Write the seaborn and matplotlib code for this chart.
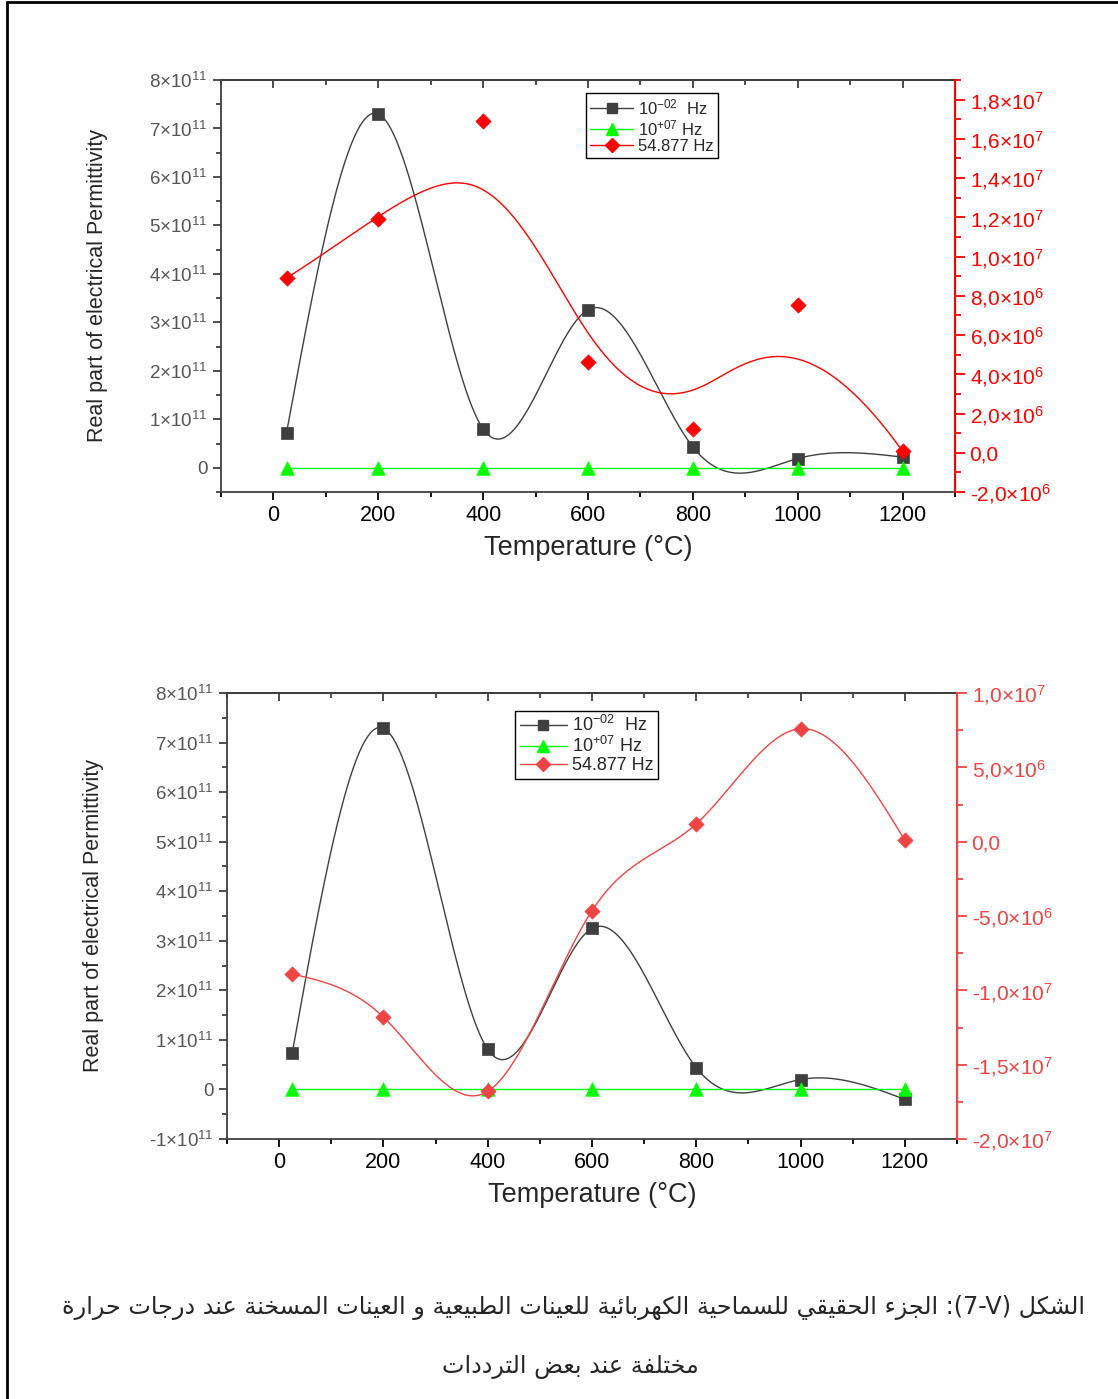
import numpy as np
import pandas as pd
import matplotlib
matplotlib.use("Agg")
import matplotlib.pyplot as plt
from matplotlib.lines import Line2D
from matplotlib.ticker import MultipleLocator, FixedLocator, FuncFormatter
import seaborn as sns

# ---------------------------------------------------------------- data
temperature = [25, 200, 400, 600, 800, 1000, 1200]

# natural samples
eps_low_a = [0.72e11, 7.30e11, 0.80e11, 3.26e11, 0.43e11, 0.19e11, 0.22e11]   # 10^-2 Hz
eps_high_a = [0, 0, 0, 0, 0, 0, 0]                                              # 10^+7 Hz
eps_mid_a = [8.9e6, 11.9e6, 16.9e6, 4.64e6, 1.22e6, 7.55e6, 0.08e6]           # 54.877 Hz

# heated samples
eps_low_b = [0.73e11, 7.29e11, 0.81e11, 3.25e11, 0.44e11, 0.20e11, -0.20e11]
eps_high_b = [0, 0, 0, 0, 0, 0, 0]
eps_mid_b = [-8.9e6, -11.8e6, -16.8e6, -4.64e6, 1.2e6, 7.6e6, 0.1e6]

legend_labels = ["10$^{-02}$  Hz", "10$^{+07}$ Hz", "54.877 Hz"]
x_label = "Temperature (°C)"
y_label = "Real part of electrical Permittivity"
caption_1 = "الشكل (7-V): الجزء الحقيقي للسماحية الكهربائية للعينات الطبيعية و العينات المسخنة عند درجات حرارة"
caption_2 = "مختلفة عند بعض الترددات"

# ---------------------------------------------------------------- style
sns.set_style("ticks")
plt.rcParams["font.family"] = ["Liberation Sans", "DejaVu Sans"]
plt.rcParams["mathtext.fontset"] = "custom"
plt.rcParams["mathtext.rm"] = "Liberation Sans"
plt.rcParams["mathtext.it"] = "Liberation Sans:italic"
plt.rcParams["mathtext.bf"] = "Liberation Sans:bold"
plt.rcParams["mathtext.default"] = "regular"

DARK = "#3f3f3f"
GREEN = "#00ff00"


# ---------------------------------------------------------------- curves
def natural_spline(x, y, xs):
    x = np.asarray(x, float)
    y = np.asarray(y, float)
    n = len(x)
    h = np.diff(x)
    A = np.zeros((n, n))
    r = np.zeros(n)
    A[0, 0] = A[-1, -1] = 1.0
    for i in range(1, n - 1):
        A[i, i - 1] = h[i - 1]
        A[i, i] = 2 * (h[i - 1] + h[i])
        A[i, i + 1] = h[i]
        r[i] = 6 * ((y[i + 1] - y[i]) / h[i] - (y[i] - y[i - 1]) / h[i - 1])
    M = np.linalg.solve(A, r)
    idx = np.clip(np.searchsorted(x, xs) - 1, 0, n - 2)
    x0, x1 = x[idx], x[idx + 1]
    hh = x1 - x0
    t0, t1 = x1 - xs, xs - x0
    return (M[idx] * t0 ** 3 / (6 * hh) + M[idx + 1] * t1 ** 3 / (6 * hh)
            + (y[idx] / hh - M[idx] * hh / 6) * t0
            + (y[idx + 1] / hh - M[idx + 1] * hh / 6) * t1)


def bspline(px, py, k=3, num=500):
    px = np.asarray(px, float)
    py = np.asarray(py, float)
    n = len(px)
    knots = np.concatenate([np.zeros(k), np.linspace(0, 1, n - k + 1), np.ones(k)])
    u = np.linspace(0, 1, num)
    u[-1] -= 1e-9
    N = np.zeros((num, len(knots) - 1))
    for j in range(len(knots) - 1):
        N[:, j] = (knots[j] <= u) & (u < knots[j + 1])
    for d in range(1, k + 1):
        Nn = np.zeros((num, len(knots) - 1 - d))
        for j in range(len(knots) - 1 - d):
            a = knots[j + d] - knots[j]
            b = knots[j + d + 1] - knots[j + 1]
            t1 = (u - knots[j]) / a * N[:, j] if a > 0 else 0
            t2 = (knots[j + d + 1] - u) / b * N[:, j + 1] if b > 0 else 0
            Nn[:, j] = t1 + t2
        N = Nn
    return N @ px, N @ py


# ---------------------------------------------------------------- arabic shaping
_DUAL = dict(zip("ئبتثجحخسشصضطظعغفقكلمنهي",
                 [0xFE89, 0xFE8F, 0xFE95, 0xFE99, 0xFE9D, 0xFEA1, 0xFEA5, 0xFEB1,
                  0xFEB5, 0xFEB9, 0xFEBD, 0xFEC1, 0xFEC5, 0xFEC9, 0xFECD, 0xFED1,
                  0xFED5, 0xFED9, 0xFEDD, 0xFEE1, 0xFEE5, 0xFEE9, 0xFEF1]))
_RIGHT = dict(zip("آأؤإاةدذرزوى",
                  [0xFE81, 0xFE83, 0xFE85, 0xFE87, 0xFE8D, 0xFE93, 0xFEA9, 0xFEAB,
                   0xFEAD, 0xFEAF, 0xFEED, 0xFEEF]))
_NONE = {"ء": 0xFE80}


def _is_arabic(ch):
    return ch in _DUAL or ch in _RIGHT or ch in _NONE


def _shape_word(word):
    out = []
    for i, ch in enumerate(word):
        if ch in _NONE:
            out.append(chr(_NONE[ch]))
            continue
        if not _is_arabic(ch):
            out.append(ch)
            continue
        prev = word[i - 1] if i > 0 else ""
        nxt = word[i + 1] if i + 1 < len(word) else ""
        jp = prev in _DUAL
        jn = ch in _DUAL and (nxt in _DUAL or nxt in _RIGHT)
        base = _DUAL.get(ch, _RIGHT.get(ch))
        if ch in _DUAL:
            off = 3 if (jp and jn) else 1 if jp else 2 if jn else 0
        else:
            off = 1 if jp else 0
        out.append(chr(base + off))
    return "".join(out)


def rtl_visual(text):
    tokens = text.split(" ")
    vis = []
    for tok in tokens:
        if any(_is_arabic(c) for c in tok):
            vis.append(_shape_word(tok)[::-1])
        else:
            # trailing neutral punctuation moves to the left in an RTL line
            stripped = tok.rstrip(":")
            vis.append(tok[len(stripped):] + stripped)
    return " ".join(vis[::-1])


# ---------------------------------------------------------------- axes helpers
def sci_int(v, _pos=None):
    if abs(v) < 1e-3:
        return "0"
    return f"{int(round(v / 1e11))}×10$^{{11}}$"


def sci_comma(v, _pos=None):
    if abs(v) < 1e-3:
        return "0,0"
    e = int(np.floor(np.log10(abs(v)) + 1e-9))
    m = v / 10 ** e
    return f"{m:.1f}".replace(".", ",") + f"×10$^{{{e}}}$"


def draw_panel(fig, rect, low, high, mid, ylim_l, ylim_r, r_major, r_minor,
               red, red_curve, legend_anchor, legend_fs, ylabel_x):
    ax = fig.add_axes(rect)
    ax.set_facecolor("none")
    xs = np.linspace(temperature[0], temperature[-1], 600)

    df = pd.DataFrame({"T": temperature, "low": low, "high": high, "mid": mid})

    # 10^-2 Hz : spline through points
    sns.lineplot(x=xs, y=natural_spline(temperature, low, xs), ax=ax,
                 color=DARK, lw=1.0, sort=False, estimator=None)
    # 10^+7 Hz : straight segments
    sns.lineplot(data=df, x="T", y="high", ax=ax, color=GREEN, lw=1.0,
                 sort=False, estimator=None)
    sns.scatterplot(data=df, x="T", y="low", ax=ax, marker="s", s=70,
                    color=DARK, edgecolor=DARK, linewidth=0.5, zorder=4)
    sns.scatterplot(data=df, x="T", y="high", ax=ax, marker="^", s=95,
                    color=GREEN, edgecolor=GREEN, linewidth=0.5, zorder=4)

    ax.set_xlim(-100, 1300)
    ax.set_ylim(*ylim_l)
    ax.xaxis.set_major_locator(FixedLocator([0, 200, 400, 600, 800, 1000, 1200]))
    ax.xaxis.set_minor_locator(MultipleLocator(100))
    ax.yaxis.set_major_locator(MultipleLocator(1e11))
    ax.yaxis.set_minor_locator(MultipleLocator(0.5e11))
    ax.yaxis.set_major_formatter(FuncFormatter(sci_int))
    ax.tick_params(axis="x", which="both", direction="out", top=False,
                   labelsize=15.5, colors="black", width=1.3)
    ax.tick_params(axis="x", which="major", length=6)
    ax.tick_params(axis="x", which="minor", length=3.5)
    ax.tick_params(axis="y", which="both", direction="out", right=False,
                   labelsize=13.5, labelcolor="#555555", color=DARK, width=1.3)
    ax.tick_params(axis="y", which="major", length=6)
    ax.tick_params(axis="y", which="minor", length=3.5)
    ax.set_xlabel(x_label, fontsize=19.5, labelpad=6)
    ax.set_ylabel(y_label, fontsize=15.5,
                  family=["Liberation Sans Narrow", "Liberation Sans"])
    ax.yaxis.set_label_coords(ylabel_x, 0.5)
    for side in ("left", "bottom", "top"):
        ax.spines[side].set_color(DARK)
        ax.spines[side].set_linewidth(1.3)

    # inward ticks on the top edge
    top = ax.secondary_xaxis("top")
    top.xaxis.set_major_locator(FixedLocator([0, 200, 400, 600, 800, 1000, 1200]))
    top.xaxis.set_minor_locator(MultipleLocator(100))
    top.tick_params(which="both", direction="in", labeltop=False, width=1.3,
                    color=DARK)
    top.tick_params(which="major", length=6)
    top.tick_params(which="minor", length=3.5)
    top.spines["top"].set_color(DARK)
    top.spines["top"].set_linewidth(1.3)

    # right axis : 54.877 Hz
    ax2 = ax.twinx()
    cx, cy = red_curve(temperature, mid)
    sns.lineplot(x=cx, y=cy, ax=ax2, color=red, lw=1.0, sort=False, estimator=None)
    sns.scatterplot(data=df, x="T", y="mid", ax=ax2, marker="D", s=60,
                    color=red, edgecolor=red, linewidth=0.5, zorder=4)
    ax2.set_ylim(*ylim_r)
    ax2.set_ylabel("")
    ax2.yaxis.set_major_locator(MultipleLocator(r_major))
    ax2.yaxis.set_minor_locator(MultipleLocator(r_minor))
    ax2.yaxis.set_major_formatter(FuncFormatter(sci_comma))
    ax2.tick_params(axis="y", which="both", direction="out", colors=red,
                    labelsize=15, width=1.3)
    ax2.tick_params(axis="y", which="major", length=7)
    ax2.tick_params(axis="y", which="minor", length=4)
    ax2.spines["right"].set_color(red)
    ax2.spines["right"].set_linewidth(1.5)
    for side in ("left", "bottom", "top"):
        ax2.spines[side].set_visible(False)

    handles = [
        Line2D([], [], color=DARK, lw=1.0, marker="s", markersize=7.5),
        Line2D([], [], color=GREEN, lw=1.0, marker="^", markersize=8.5),
        Line2D([], [], color=red, lw=1.0, marker="D", markersize=7),
    ]
    leg = ax2.legend(handles, legend_labels, loc="upper left",
                     bbox_to_anchor=legend_anchor, fontsize=legend_fs,
                     frameon=True, fancybox=False, edgecolor="black",
                     framealpha=1, handlelength=2.6, handletextpad=0.3,
                     labelspacing=0.05, borderpad=0.25, borderaxespad=0)
    leg.get_frame().set_linewidth(1.0)
    return ax, ax2


def bspline_curve(x, y):
    return bspline(x, y)


def spline_curve(x, y):
    xs = np.linspace(x[0], x[-1], 600)
    return xs, natural_spline(x, y, xs)


# ---------------------------------------------------------------- figure
W, H = 1118, 1399
fig = plt.figure(figsize=(W / 100, H / 100), dpi=100)


def rect(l, r, t, b):
    return [l / W, 1 - b / H, (r - l) / W, (b - t) / H]


draw_panel(fig, rect(221, 955, 80, 492), eps_low_a, eps_high_a, eps_mid_a,
           (-0.5e11, 8e11), (-2e6, 1.9e7), 2e6, 1e6, "#ff0000", bspline_curve,
           (0.497, 0.968), 12, (108 - 221) / 734)
draw_panel(fig, rect(227, 957, 693, 1139), eps_low_b, eps_high_b, eps_mid_b,
           (-1e11, 8e11), (-2e7, 1e7), 5e6, 2.5e6, "#ef4444", spline_curve,
           (0.395, 0.960), 13, (104 - 227) / 730)

# page frame
fig.add_artist(Line2D([7 / W, 7 / W], [0, 1 - 2 / H], color="black", lw=2,
                      transform=fig.transFigure))
fig.add_artist(Line2D([7 / W, 1], [1 - 2 / H, 1 - 2 / H], color="black", lw=2,
                      transform=fig.transFigure))

# caption
fig.text(1085 / W, 1 - 1307 / H, rtl_visual(caption_1), ha="right", va="center",
         fontsize=17.2, family=["DejaVu Sans"])
fig.text(570 / W, 1 - 1367 / H, rtl_visual(caption_2), ha="center", va="center",
         fontsize=17.2, family=["DejaVu Sans"])

fig.savefig("out.png", dpi=100)
